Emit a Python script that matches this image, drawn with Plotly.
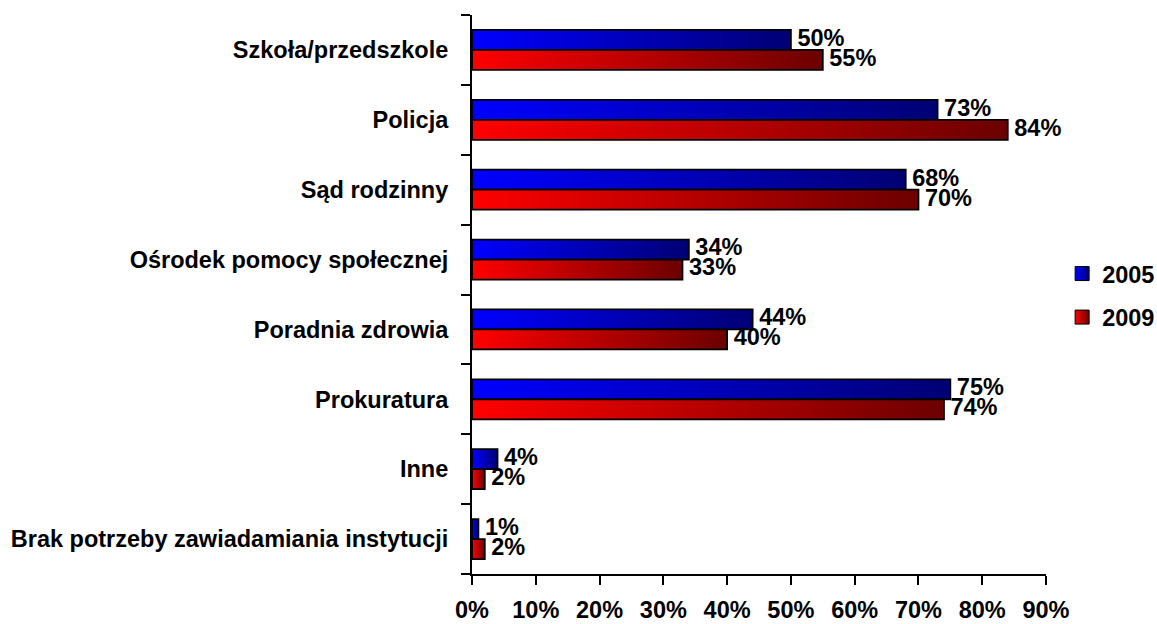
import plotly.graph_objects as go

# Institutions notified, share of responses per survey year
categories = [
    "Szkoła/przedszkole",
    "Policja",
    "Sąd rodzinny",
    "Ośrodek pomocy społecznej",
    "Poradnia zdrowia",
    "Prokuratura",
    "Inne",
    "Brak potrzeby zawiadamiania instytucji",
]
values_2005 = [50, 73, 68, 34, 44, 75, 4, 1]
values_2009 = [55, 84, 70, 33, 40, 74, 2, 2]
series_names = ["2005", "2009"]
x_tick_values = [0, 10, 20, 30, 40, 50, 60, 70, 80, 90]
x_tick_labels = [f"{v}%" for v in x_tick_values]

FONT = dict(family="Liberation Sans, Arial, sans-serif", size=23.5, color="black", weight="bold")
BAR_H = 0.2857  # thickness of one bar in category units
gradients = {
    "2005": ("#0000FF", "#000074"),
    "2009": ("#FF0000", "#6C0000"),
}

fig = go.Figure()

for s, (name, vals) in enumerate(zip(series_names, [values_2005, values_2009])):
    start_col, end_col = gradients[name]
    for i, v in enumerate(vals):
        top = i - BAR_H + s * BAR_H
        bot = top + BAR_H
        fig.add_trace(go.Scatter(
            x=[0, v, v, 0, 0],
            y=[top, top, bot, bot, top],
            mode="lines",
            fill="toself",
            fillgradient=dict(type="horizontal",
                              colorscale=[[0, start_col], [1, end_col]]),
            line=dict(color="black", width=1.8),
            name=name,
            legendgroup=name,
            showlegend=False,
            hoverinfo="skip",
        ))
    # legend swatch for the series
    fig.add_trace(go.Scatter(
        x=[None], y=[None],
        mode="markers",
        marker=dict(symbol="square", size=14, color=start_col,
                    gradient=dict(type="horizontal", color=end_col),
                    line=dict(color="black", width=1)),
        name=name,
        legendgroup=name,
        showlegend=True,
    ))
    # value labels at the end of each bar
    fig.add_trace(go.Scatter(
        x=vals,
        y=[i - BAR_H / 2 + s * BAR_H for i in range(len(vals))],
        mode="text",
        text=[f" {v}%" for v in vals],
        textposition="middle right",
        textfont=FONT,
        cliponaxis=False,
        showlegend=False,
        hoverinfo="skip",
    ))

fig.update_layout(
    width=1157,
    height=624,
    margin=dict(l=472, r=111, t=15, b=50, autoexpand=False),
    plot_bgcolor="white",
    paper_bgcolor="white",
    font=FONT,
    legend=dict(
        xref="container", yref="container",
        x=0.918, y=0.526, xanchor="left", yanchor="middle",
        font=FONT, tracegroupgap=10, itemwidth=30,
        bgcolor="rgba(0,0,0,0)",
    ),
    xaxis=dict(
        range=[0, 90],
        tickvals=x_tick_values,
        ticktext=x_tick_labels,
        ticks="outside",
        ticklen=9,
        tickwidth=2,
        tickcolor="black",
        showline=True,
        linecolor="black",
        linewidth=2,
        showgrid=False,
        zeroline=False,
        ticklabelstandoff=5,
        tickfont=FONT,
    ),
    yaxis=dict(
        range=[len(categories) - 0.5, -0.5],
        tickvals=list(range(len(categories))),
        ticktext=categories,
        ticks="",
        showline=True,
        linecolor="black",
        linewidth=2,
        showgrid=False,
        zeroline=False,
        ticklabelstandoff=17,
        tickfont=FONT,
        minor=dict(
            tickvals=[i - 0.5 for i in range(len(categories) + 1)],
            ticks="outside",
            ticklen=9,
            tickwidth=2,
            tickcolor="black",
            showgrid=False,
        ),
    ),
)

fig.write_html("out.html")
